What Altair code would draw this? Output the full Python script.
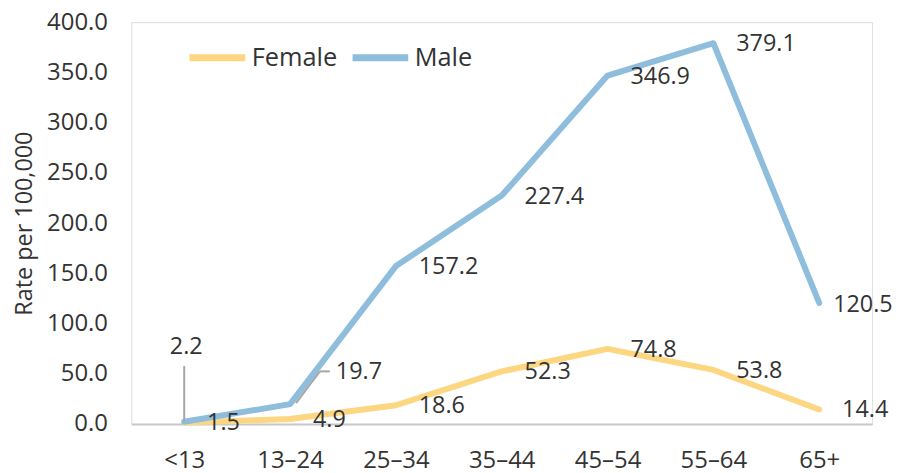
import altair as alt
import pandas as pd

ages = ["<13", "13–24", "25–34", "35–44", "45–54", "55–64", "65+"]
female = [1.5, 4.9, 18.6, 52.3, 74.8, 53.8, 14.4]
male = [2.2, 19.7, 157.2, 227.4, 346.9, 379.1, 120.5]
series = ["Female", "Male"]
colors = ["#FDD682", "#8FBEDD"]
y_ticks = [0, 50, 100, 150, 200, 250, 300, 350, 400]

rows = []
for s, vals in zip(series, [female, male]):
    for a, v in zip(ages, vals):
        rows.append({"age": a, "sex": s, "value": v, "label": f"{v:.1f}"})
df = pd.DataFrame(rows)

FONT = "Open Sans"
TXT = "#333333"

x = alt.X("age:N", sort=ages, scale=alt.Scale(type="point", padding=0.5, domain=ages),
          axis=alt.Axis(title=None, labelAngle=0, labelAlign="center", ticks=False, domain=True,
                        domainColor="#C8C8C8", domainWidth=2, labelFontSize=24,
                        labelPadding=25, labelColor=TXT, labelFont=FONT))
y = alt.Y("value:Q", scale=alt.Scale(domain=[0, 400], nice=False),
          axis=alt.Axis(values=y_ticks, format=".1f", grid=False, domain=False, ticks=False,
                        labelFontSize=24, labelPadding=24, labelColor=TXT, labelFont=FONT,
                        title="Rate per 100,000", titleFontSize=23.5, titleFontWeight="normal",
                        titleColor=TXT, titleFont=FONT, titleAngle=-90, titleX=-107,
                        titleY=202, titleAlign="center", titleBaseline="middle"))

base = alt.Chart(df)

lines = base.mark_line(strokeWidth=6, strokeCap="round", strokeJoin="round").encode(
    x=x, y=y,
    color=alt.Color("sex:N", scale=alt.Scale(domain=series, range=colors),
                    legend=alt.Legend(title=None, orient="none", legendX=55, legendY=4,
                                      direction="horizontal", symbolType="stroke",
                                      symbolSize=3136, symbolStrokeWidth=7,
                                      labelFontSize=25.5, labelFont=FONT, labelColor=TXT,
                                      labelOffset=3, columnPadding=0, padding=0)),
)

labels = base.transform_filter(
    ~((alt.datum.sex == "Male") & ((alt.datum.age == "<13") | (alt.datum.age == "13–24") | (alt.datum.age == "65+")))
).mark_text(align="left", baseline="middle", dx=23, dy=1, fontSize=23.5, font=FONT, color=TXT).encode(
    x=alt.X("age:N", sort=ages), y="value:Q", text="label:N")

lab_lt13 = base.transform_filter((alt.datum.sex == "Male") & (alt.datum.age == "<13")).mark_text(
    align="center", baseline="middle", dx=2, dy=-75, fontSize=23.5, font=FONT, color=TXT).encode(
    x=alt.X("age:N", sort=ages), y="value:Q", text="label:N")

lab_1324 = base.transform_filter((alt.datum.sex == "Male") & (alt.datum.age == "13–24")).mark_text(
    align="left", baseline="middle", dx=46, dy=-32, fontSize=23.5, font=FONT, color=TXT).encode(
    x=alt.X("age:N", sort=ages), y="value:Q", text="label:N")

lab_65 = base.transform_filter((alt.datum.sex == "Male") & (alt.datum.age == "65+")).mark_text(
    align="left", baseline="middle", dx=14, dy=2, fontSize=23.5, font=FONT, color=TXT).encode(
    x=alt.X("age:N", sort=ages), y="value:Q", text="label:N")

LEAD = "#A6A6A6"
lead1 = base.transform_filter((alt.datum.sex == "Male") & (alt.datum.age == "<13")).mark_rule(
    color=LEAD, strokeWidth=2, yOffset=0, y2Offset=-56).encode(
    x=alt.X("age:N", sort=ages), y="value:Q", y2="value:Q")

lead2 = base.transform_filter((alt.datum.sex == "Male") & (alt.datum.age == "13–24")).mark_rule(
    color=LEAD, strokeWidth=2, xOffset=6, yOffset=-1, x2Offset=30, y2Offset=-33).encode(
    x=alt.X("age:N", sort=ages), y="value:Q", x2="age:N", y2="value:Q")

lead3 = base.transform_filter((alt.datum.sex == "Male") & (alt.datum.age == "13–24")).mark_rule(
    color=LEAD, strokeWidth=2, xOffset=30, x2Offset=40, yOffset=-33).encode(
    x=alt.X("age:N", sort=ages), x2="age:N", y="value:Q")

chart = alt.layer(lines, lead1, lead2, lead3, labels, lab_lt13, lab_1324, lab_65).properties(
    width=745, height=404,
    autosize=alt.AutoSizeParams(type="none"),
    padding={"left": 124, "top": 13, "right": 22, "bottom": 44},
).configure_view(stroke=None).configure(font=FONT)

chart.save("out.html", embed_options={"renderer": "svg", "actions": False})
